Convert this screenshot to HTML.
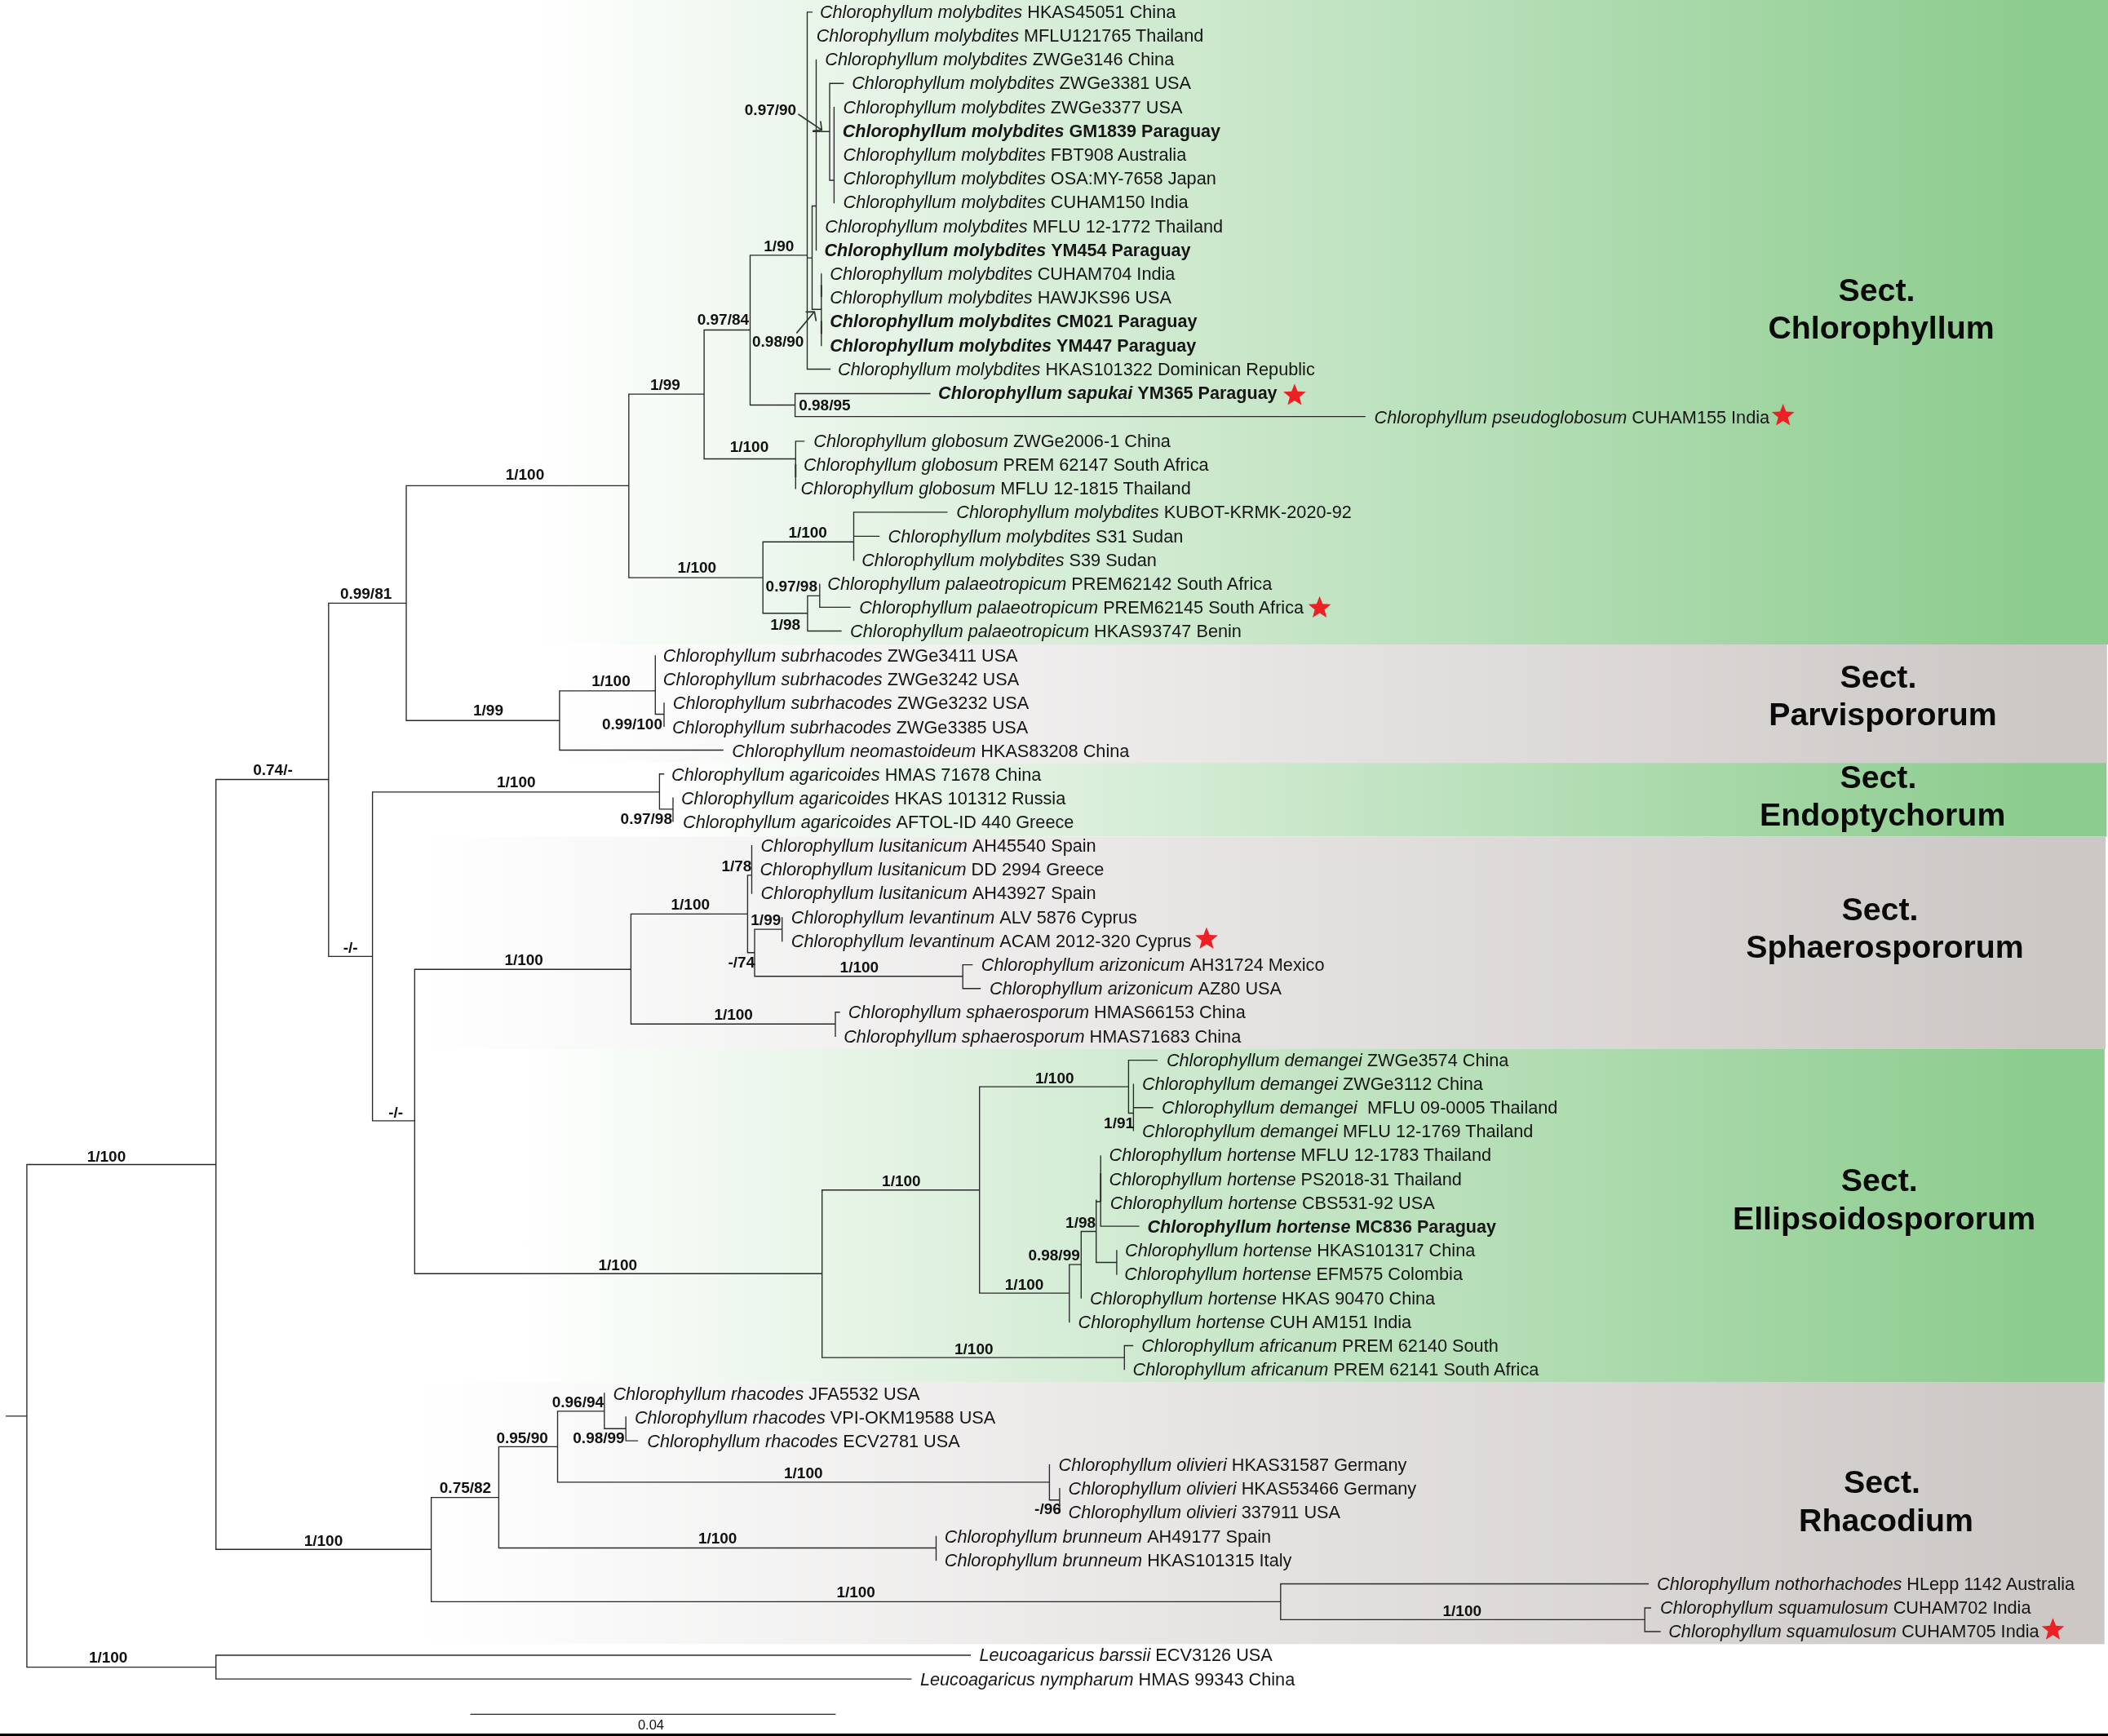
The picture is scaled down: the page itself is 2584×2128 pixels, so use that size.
<!DOCTYPE html>
<html><head><meta charset="utf-8"><title>Chlorophyllum phylogeny</title>
<style>
html,body{margin:0;padding:0;background:#fff;}
body{width:2584px;height:2128px;overflow:hidden;}
svg{display:block;will-change:transform;font-family:"Liberation Sans",sans-serif;}
.t{font-size:21.7px;fill:#151515;}
.t .i{font-style:italic;}
.b{font-weight:bold;font-size:21.55px;}
.s{font-size:19.0px;font-weight:bold;fill:#111;}
.sec{font-size:39.3px;font-weight:bold;fill:#0a0a0a;text-anchor:middle;}
.l{stroke:#282828;stroke-width:1.35;fill:none;stroke-linecap:square;}
</style></head><body>
<svg width="2584" height="2128" viewBox="0 0 2584 2128">
<defs>
<linearGradient id="g0" gradientUnits="userSpaceOnUse" x1="655" y1="0" x2="2500" y2="0"><stop offset="0" stop-color="#ffffff"/><stop offset="1" stop-color="#8ccc8e"/></linearGradient>
<linearGradient id="g1" gradientUnits="userSpaceOnUse" x1="690" y1="0" x2="2500" y2="0"><stop offset="0" stop-color="#ffffff"/><stop offset="1" stop-color="#ccc8c6"/></linearGradient>
<linearGradient id="g2" gradientUnits="userSpaceOnUse" x1="800" y1="0" x2="2500" y2="0"><stop offset="0" stop-color="#ffffff"/><stop offset="1" stop-color="#8ccc8e"/></linearGradient>
<linearGradient id="g3" gradientUnits="userSpaceOnUse" x1="516" y1="0" x2="2500" y2="0"><stop offset="0" stop-color="#ffffff"/><stop offset="1" stop-color="#ccc8c6"/></linearGradient>
<linearGradient id="g4" gradientUnits="userSpaceOnUse" x1="635" y1="0" x2="2500" y2="0"><stop offset="0" stop-color="#ffffff"/><stop offset="1" stop-color="#8ccc8e"/></linearGradient>
<linearGradient id="g5" gradientUnits="userSpaceOnUse" x1="515" y1="0" x2="2500" y2="0"><stop offset="0" stop-color="#ffffff"/><stop offset="1" stop-color="#ccc8c6"/></linearGradient>
</defs>
<rect x="0" y="0" width="2584" height="2128" fill="#ffffff"/>
<rect x="655" y="0" width="1929" height="790" fill="url(#g0)"/>
<rect x="690" y="790" width="1892.7" height="145.1" fill="url(#g1)"/>
<rect x="800" y="935.1" width="1782.3" height="90.5" fill="url(#g2)"/>
<rect x="516" y="1025.6" width="2065" height="260.4" fill="url(#g3)"/>
<rect x="635" y="1286" width="1944.8" height="408.7" fill="url(#g4)"/>
<rect x="515" y="1694.7" width="2064.7" height="320.7" fill="url(#g5)"/>
<rect x="0" y="2125" width="2584" height="3" fill="#000"/>
<path class="l" d="M7.7,1735.8H32.9M32.9,1427.5V2043.6M32.9,1427.5H264.7M32.9,2043.6H264.7M264.7,2029V2058.1M264.7,2029H1189.4M264.7,2058.1H1116.8M264.7,955.5V1899.2
M264.7,955.5H402.8M264.7,1899.2H528.6M402.8,739.3V1172.4M402.8,739.3H498M402.8,1172.4H456.6M498,595.4V883.2M498,595.4H770.8M498,883.2H685.9
M770.8,483.1V708.1M770.8,483.1H863.1M770.8,708.1H935.2M863.1,404.5V562.5M863.1,404.5H919.5M863.1,562.5H975.3M919.5,312.9V496.5M919.5,312.9H989.5
M919.5,496.5H974.6M974.6,482.5V510.6M974.6,482.5H1139.9M974.6,510.6H1673.1M989.5,14.8V452.5M989.5,14.8H995.4M989.5,452.5H1017.4M989.5,316.1H995.5
M995.5,252.5V379.2M995.5,252.5H1000.5M1000.5,73.3V306.6M996.8,161.2H1017M1017,102.2V221M1017,102.2H1033.8M1017,221H1022.4M1022.4,131.6V248.5
M995.5,379.2H1007M1006.8,336V423.6M975.3,540.8V598.8M975.3,540.8H985.6M935.2,664.2V751.7M935.2,664.2H1046.5M1046.5,627.9V686.8M1046.5,627.9H1160.8
M1046.5,657.3H1077.5M935.2,751.7H989.9M989.9,730.3V773.5M989.9,730.3H1004.8M1004.8,716.2V744.4M1004.8,744.4H1042.1M989.9,773.5H1031M685.9,846.9V919.5
M685.9,846.9H803.3M803.3,803.8V875.5M803.3,875.5H814M814,861.8V890.4M685.9,919.5H886.1M456.6,970.9V1373.9M456.6,970.9H808.4M808.4,948.7V991.8
M808.4,948.7H813.5M808.4,991.8H825M825,978.1V1006.7M456.6,1373.9H508.3M508.3,1188.2V1561.2M508.3,1188.2H773.4M773.4,1120.3V1255.2M773.4,1120.3H916.4
M916.4,1072.9V1167.7M916.4,1072.9H921.5M921.5,1036.6V1095.1M916.4,1167.7H925M925,1139.1V1196.7M925,1139.1H958.7M958.7,1125V1153.6M925,1196.7H1180.2
M1180.2,1182.6V1211.7M1180.2,1182.6H1191.7M1180.2,1211.7H1201.5M773.4,1255.2H1024M1024,1240.7V1270.2M1024,1240.7H1029M508.3,1561.2H1007.7M1007.7,1458.7V1664.1
M1007.7,1458.7H1200.7M1007.7,1664.1H1378.3M1378.3,1649.5V1678.6M1378.3,1649.5H1388.5M1200.7,1332.1V1585.1M1200.7,1332.1H1383.4M1383.4,1299.6V1364.5M1383.4,1299.6H1418.4
M1383.4,1364.5H1389.4M1389.4,1329.1V1385.9M1389.4,1357.7H1412.9M1200.7,1585.1H1310.8M1310.8,1550.1V1620.5M1310.8,1550.1H1325.3M1325.3,1509.5V1591M1325.3,1509.5H1343.7
M1343.7,1471.1V1547.5M1343.7,1473H1349.2M1349.2,1416.9V1503.1M1349.2,1503.1H1395.8M1343.7,1547.5H1368.9M1368.9,1533V1562M528.6,1835.6V1963.3M528.6,1835.6H611.4
M528.6,1963.3H1569.8M1569.8,1941.5V1985.3M1569.8,1941.5H2020.4M1569.8,1985.3H2016.2M2016.2,1971V2000M2016.2,1971H2023.4M2016.2,2000H2035M611.4,1773.4V1897.5
M611.4,1773.4H683.5M611.4,1897.5H1147.5M1147.5,1883.5V1912.5M683.5,1729.8V1816.9M683.5,1729.8H740.8M740.8,1708V1751.2M740.8,1751.2H767.2M767.2,1737V1766.1
M767.2,1766.1H781.3M683.5,1816.9H1286.4M1286.4,1795.6V1838.7M1286.4,1838.7H1298.9M1298.9,1824.6V1853.6M577.2,2101.3H1023.7
"/>
<path stroke="#2e2e2e" stroke-width="1.9" fill="none" d="M1006.8,349.5V364M1006.8,393.6V409.3M975.3,569V585M1349.2,1438V1473"/>
<g stroke="#333" stroke-width="1.7" fill="none" stroke-linecap="round" stroke-linejoin="round">
<path d="M979,140.2L1007,159.1M1005.9,149L1007.3,159.3L996.8,160.4"/>
<path d="M976.8,407.9L998.2,382.3M988.2,382.3L998.4,382.1L1000.3,393"/>
</g>
<text class="t" x="1004.9" y="21.8" xml:space="preserve"><tspan class="i">Chlorophyllum molybdites </tspan>HKAS45051 China</text>
<text class="t" x="1000.7" y="51" xml:space="preserve"><tspan class="i">Chlorophyllum molybdites </tspan>MFLU121765 Thailand</text>
<text class="t" x="1011.3" y="80.2" xml:space="preserve"><tspan class="i">Chlorophyllum molybdites </tspan>ZWGe3146 China</text>
<text class="t" x="1044.2" y="109.4" xml:space="preserve"><tspan class="i">Chlorophyllum molybdites </tspan>ZWGe3381 USA</text>
<text class="t" x="1033.5" y="138.6" xml:space="preserve"><tspan class="i">Chlorophyllum molybdites </tspan>ZWGe3377 USA</text>
<text class="t b" x="1032.7" y="167.8" xml:space="preserve"><tspan class="i">Chlorophyllum molybdites </tspan>GM1839 Paraguay</text>
<text class="t" x="1033.5" y="196.9" xml:space="preserve"><tspan class="i">Chlorophyllum molybdites </tspan>FBT908 Australia</text>
<text class="t" x="1033.5" y="226.1" xml:space="preserve"><tspan class="i">Chlorophyllum molybdites </tspan>OSA:MY-7658 Japan</text>
<text class="t" x="1033.5" y="255.3" xml:space="preserve"><tspan class="i">Chlorophyllum molybdites </tspan>CUHAM150 India</text>
<text class="t" x="1011.3" y="284.5" xml:space="preserve"><tspan class="i">Chlorophyllum molybdites </tspan>MFLU 12-1772 Thailand</text>
<text class="t b" x="1010.5" y="313.7" xml:space="preserve"><tspan class="i">Chlorophyllum molybdites </tspan>YM454 Paraguay</text>
<text class="t" x="1017.3" y="342.9" xml:space="preserve"><tspan class="i">Chlorophyllum molybdites </tspan>CUHAM704 India</text>
<text class="t" x="1017.3" y="372.1" xml:space="preserve"><tspan class="i">Chlorophyllum molybdites </tspan>HAWJKS96 USA</text>
<text class="t b" x="1017.3" y="401.3" xml:space="preserve"><tspan class="i">Chlorophyllum molybdites </tspan>CM021 Paraguay</text>
<text class="t b" x="1017.3" y="430.5" xml:space="preserve"><tspan class="i">Chlorophyllum molybdites </tspan>YM447 Paraguay</text>
<text class="t" x="1027.1" y="459.7" xml:space="preserve"><tspan class="i">Chlorophyllum molybdites </tspan>HKAS101322 Dominican Republic</text>
<text class="t b" x="1150.1" y="489.3" xml:space="preserve"><tspan class="i">Chlorophyllum sapukai </tspan>YM365 Paraguay</text>
<path d="M0.00,-14.60 L3.70,-5.10 L13.89,-4.51 L5.99,1.95 L8.58,11.81 L0.00,6.30 L-8.58,11.81 L-5.99,1.95 L-13.89,-4.51 L-3.70,-5.10 Z" fill="#ed2024" transform="translate(1586.9,484.8)"/>
<text class="t" x="1684.5" y="518.5" xml:space="preserve"><tspan class="i">Chlorophyllum pseudoglobosum </tspan>CUHAM155 India</text>
<path d="M0.00,-14.60 L3.70,-5.10 L13.89,-4.51 L5.99,1.95 L8.58,11.81 L0.00,6.30 L-8.58,11.81 L-5.99,1.95 L-13.89,-4.51 L-3.70,-5.10 Z" fill="#ed2024" transform="translate(2185.7,509.6)"/>
<text class="t" x="997.3" y="547.7" xml:space="preserve"><tspan class="i">Chlorophyllum globosum </tspan>ZWGe2006-1 China</text>
<text class="t" x="984.9" y="576.9" xml:space="preserve"><tspan class="i">Chlorophyllum globosum </tspan>PREM 62147 South Africa</text>
<text class="t" x="981.5" y="606.1" xml:space="preserve"><tspan class="i">Chlorophyllum globosum </tspan>MFLU 12-1815 Thailand</text>
<text class="t" x="1172.3" y="635.3" xml:space="preserve"><tspan class="i">Chlorophyllum molybdites </tspan>KUBOT-KRMK-2020-92</text>
<text class="t" x="1088.6" y="664.5" xml:space="preserve"><tspan class="i">Chlorophyllum molybdites </tspan>S31 Sudan</text>
<text class="t" x="1056.2" y="693.7" xml:space="preserve"><tspan class="i">Chlorophyllum molybdites </tspan>S39 Sudan</text>
<text class="t" x="1014.3" y="722.9" xml:space="preserve"><tspan class="i">Chlorophyllum palaeotropicum </tspan>PREM62142 South Africa</text>
<text class="t" x="1053.2" y="752" xml:space="preserve"><tspan class="i">Chlorophyllum palaeotropicum </tspan>PREM62145 South Africa</text>
<path d="M0.00,-14.60 L3.70,-5.10 L13.89,-4.51 L5.99,1.95 L8.58,11.81 L0.00,6.30 L-8.58,11.81 L-5.99,1.95 L-13.89,-4.51 L-3.70,-5.10 Z" fill="#ed2024" transform="translate(1617.6,745.3)"/>
<text class="t" x="1042.1" y="781.2" xml:space="preserve"><tspan class="i">Chlorophyllum palaeotropicum </tspan>HKAS93747 Benin</text>
<text class="t" x="812.8" y="810.9" xml:space="preserve"><tspan class="i">Chlorophyllum subrhacodes </tspan>ZWGe3411 USA</text>
<text class="t" x="812.8" y="840.1" xml:space="preserve"><tspan class="i">Chlorophyllum subrhacodes </tspan>ZWGe3242 USA</text>
<text class="t" x="824.8" y="869.3" xml:space="preserve"><tspan class="i">Chlorophyllum subrhacodes </tspan>ZWGe3232 USA</text>
<text class="t" x="823.9" y="898.5" xml:space="preserve"><tspan class="i">Chlorophyllum subrhacodes </tspan>ZWGe3385 USA</text>
<text class="t" x="897.3" y="927.7" xml:space="preserve"><tspan class="i">Chlorophyllum neomastoideum </tspan>HKAS83208 China</text>
<text class="t" x="823.1" y="956.9" xml:space="preserve"><tspan class="i">Chlorophyllum agaricoides </tspan>HMAS 71678 China</text>
<text class="t" x="834.9" y="986.1" xml:space="preserve"><tspan class="i">Chlorophyllum agaricoides </tspan>HKAS 101312 Russia</text>
<text class="t" x="837" y="1015.3" xml:space="preserve"><tspan class="i">Chlorophyllum agaricoides </tspan>AFTOL-ID 440 Greece</text>
<text class="t" x="932.6" y="1044" xml:space="preserve"><tspan class="i">Chlorophyllum lusitanicum </tspan>AH45540 Spain</text>
<text class="t" x="931.4" y="1073.1" xml:space="preserve"><tspan class="i">Chlorophyllum lusitanicum </tspan>DD 2994 Greece</text>
<text class="t" x="932.6" y="1102.3" xml:space="preserve"><tspan class="i">Chlorophyllum lusitanicum </tspan>AH43927 Spain</text>
<text class="t" x="969.8" y="1131.5" xml:space="preserve"><tspan class="i">Chlorophyllum levantinum </tspan>ALV 5876 Cyprus</text>
<text class="t" x="969.8" y="1160.7" xml:space="preserve"><tspan class="i">Chlorophyllum levantinum </tspan>ACAM 2012-320 Cyprus</text>
<path d="M0.00,-14.60 L3.70,-5.10 L13.89,-4.51 L5.99,1.95 L8.58,11.81 L0.00,6.30 L-8.58,11.81 L-5.99,1.95 L-13.89,-4.51 L-3.70,-5.10 Z" fill="#ed2024" transform="translate(1479,1151.1)"/>
<text class="t" x="1202.8" y="1189.9" xml:space="preserve"><tspan class="i">Chlorophyllum arizonicum </tspan>AH31724 Mexico</text>
<text class="t" x="1213" y="1219.1" xml:space="preserve"><tspan class="i">Chlorophyllum arizonicum </tspan>AZ80 USA</text>
<text class="t" x="1039.7" y="1248.3" xml:space="preserve"><tspan class="i">Chlorophyllum sphaerosporum </tspan>HMAS66153 China</text>
<text class="t" x="1034.2" y="1277.5" xml:space="preserve"><tspan class="i">Chlorophyllum sphaerosporum </tspan>HMAS71683 China</text>
<text class="t" x="1429.9" y="1306.7" xml:space="preserve"><tspan class="i">Chlorophyllum demangei </tspan>ZWGe3574 China</text>
<text class="t" x="1400" y="1335.8" xml:space="preserve"><tspan class="i">Chlorophyllum demangei </tspan>ZWGe3112 China</text>
<text class="t" x="1424" y="1365" xml:space="preserve"><tspan class="i">Chlorophyllum demangei  </tspan>MFLU 09-0005 Thailand</text>
<text class="t" x="1400" y="1394.2" xml:space="preserve"><tspan class="i">Chlorophyllum demangei </tspan>MFLU 12-1769 Thailand</text>
<text class="t" x="1359.5" y="1423.4" xml:space="preserve"><tspan class="i">Chlorophyllum hortense </tspan>MFLU 12-1783 Thailand</text>
<text class="t" x="1359.5" y="1452.6" xml:space="preserve"><tspan class="i">Chlorophyllum hortense </tspan>PS2018-31 Thailand</text>
<text class="t" x="1360.8" y="1481.8" xml:space="preserve"><tspan class="i">Chlorophyllum hortense </tspan>CBS531-92 USA</text>
<text class="t b" x="1406.5" y="1511" xml:space="preserve"><tspan class="i">Chlorophyllum hortense </tspan>MC836 Paraguay</text>
<text class="t" x="1379.1" y="1540.2" xml:space="preserve"><tspan class="i">Chlorophyllum hortense </tspan>HKAS101317 China</text>
<text class="t" x="1378.3" y="1569.4" xml:space="preserve"><tspan class="i">Chlorophyllum hortense </tspan>EFM575 Colombia</text>
<text class="t" x="1336" y="1598.6" xml:space="preserve"><tspan class="i">Chlorophyllum hortense </tspan>HKAS 90470 China</text>
<text class="t" x="1321.5" y="1627.8" xml:space="preserve"><tspan class="i">Chlorophyllum hortense </tspan>CUH AM151 India</text>
<text class="t" x="1399.2" y="1656.9" xml:space="preserve"><tspan class="i">Chlorophyllum africanum </tspan>PREM 62140 South</text>
<text class="t" x="1388.5" y="1686.1" xml:space="preserve"><tspan class="i">Chlorophyllum africanum </tspan>PREM 62141 South Africa</text>
<text class="t" x="751.4" y="1716.1" xml:space="preserve"><tspan class="i">Chlorophyllum rhacodes </tspan>JFA5532 USA</text>
<text class="t" x="777.9" y="1744.5" xml:space="preserve"><tspan class="i">Chlorophyllum rhacodes </tspan>VPI-OKM19588 USA</text>
<text class="t" x="793.3" y="1773.7" xml:space="preserve"><tspan class="i">Chlorophyllum rhacodes </tspan>ECV2781 USA</text>
<text class="t" x="1297.6" y="1802.9" xml:space="preserve"><tspan class="i">Chlorophyllum olivieri </tspan>HKAS31587 Germany</text>
<text class="t" x="1309.5" y="1832.1" xml:space="preserve"><tspan class="i">Chlorophyllum olivieri </tspan>HKAS53466 Germany</text>
<text class="t" x="1309.5" y="1861.3" xml:space="preserve"><tspan class="i">Chlorophyllum olivieri </tspan>337911 USA</text>
<text class="t" x="1157.8" y="1890.5" xml:space="preserve"><tspan class="i">Chlorophyllum brunneum </tspan>AH49177 Spain</text>
<text class="t" x="1157.8" y="1919.7" xml:space="preserve"><tspan class="i">Chlorophyllum brunneum </tspan>HKAS101315 Italy</text>
<text class="t" x="2031.1" y="1948.8" xml:space="preserve"><tspan class="i">Chlorophyllum nothorhachodes </tspan>HLepp 1142 Australia</text>
<text class="t" x="2035" y="1978" xml:space="preserve"><tspan class="i">Chlorophyllum squamulosum </tspan>CUHAM702 India</text>
<text class="t" x="2045.2" y="2007.2" xml:space="preserve"><tspan class="i">Chlorophyllum squamulosum </tspan>CUHAM705 India</text>
<path d="M0.00,-14.60 L3.70,-5.10 L13.89,-4.51 L5.99,1.95 L8.58,11.81 L0.00,6.30 L-8.58,11.81 L-5.99,1.95 L-13.89,-4.51 L-3.70,-5.10 Z" fill="#ed2024" transform="translate(2516.5,1997.9)"/>
<text class="t" x="1200.5" y="2036.4" xml:space="preserve"><tspan class="i">Leucoagaricus barssii </tspan>ECV3126 USA</text>
<text class="t" x="1127.9" y="2065.6" xml:space="preserve"><tspan class="i">Leucoagaricus nympharum </tspan>HMAS 99343 China</text>
<text class="s" x="912.8" y="140.8">0.97/90</text>
<text class="s" x="936.3" y="307.5">1/90</text>
<text class="s" x="854.7" y="397.8">0.97/84</text>
<text class="s" x="922" y="424.9">0.98/90</text>
<text class="s" x="796.9" y="477.7">1/99</text>
<text class="s" x="979.2" y="502.5">0.98/95</text>
<text class="s" x="894.7" y="553.7">1/100</text>
<text class="s" x="619.7" y="587.9">1/100</text>
<text class="s" x="966.4" y="659.2">1/100</text>
<text class="s" x="830.6" y="701.9">1/100</text>
<text class="s" x="938.6" y="725">0.97/98</text>
<text class="s" x="944.2" y="771.5">1/98</text>
<text class="s" x="416.9" y="734.3">0.99/81</text>
<text class="s" x="725.2" y="841.1">1/100</text>
<text class="s" x="580" y="877">1/99</text>
<text class="s" x="738" y="894">0.99/100</text>
<text class="s" x="310.2" y="950">0.74/-</text>
<text class="s" x="609" y="964.9">1/100</text>
<text class="s" x="760.6" y="1009.5">0.97/98</text>
<text class="s" x="884.4" y="1068.4">1/78</text>
<text class="s" x="822.5" y="1114.9">1/100</text>
<text class="s" x="920.3" y="1133.7">1/99</text>
<text class="s" x="420.7" y="1167.8">-/-</text>
<text class="s" x="618.4" y="1183.2">1/100</text>
<text class="s" x="892.5" y="1185.8">-/74</text>
<text class="s" x="1029.6" y="1191.8">1/100</text>
<text class="s" x="875.4" y="1249.8">1/100</text>
<text class="s" x="1269" y="1328">1/100</text>
<text class="s" x="476.2" y="1369.7">-/-</text>
<text class="s" x="1353.1" y="1383.1">1/91</text>
<text class="s" x="106.7" y="1423.9">1/100</text>
<text class="s" x="1081.1" y="1453.7">1/100</text>
<text class="s" x="1306.1" y="1505">1/98</text>
<text class="s" x="1260.4" y="1544.7">0.98/99</text>
<text class="s" x="733.5" y="1557.1">1/100</text>
<text class="s" x="1231.8" y="1581">1/100</text>
<text class="s" x="1170" y="1659.5">1/100</text>
<text class="s" x="676.7" y="1724.9">0.96/94</text>
<text class="s" x="608.4" y="1768.8">0.95/90</text>
<text class="s" x="702.3" y="1768.8">0.98/99</text>
<text class="s" x="961" y="1812.3">1/100</text>
<text class="s" x="538.8" y="1830.3">0.75/82</text>
<text class="s" x="1268.1" y="1855.9">-/96</text>
<text class="s" x="855.9" y="1892.2">1/100</text>
<text class="s" x="372.7" y="1894.7">1/100</text>
<text class="s" x="1025.4" y="1957.5">1/100</text>
<text class="s" x="1768.5" y="1980.6">1/100</text>
<text class="s" x="108.9" y="2038.2">1/100</text>
<text class="sec" x="2300.5" y="368.7">Sect.</text>
<text class="sec" x="2306" y="414.8">Chlorophyllum</text>
<text class="sec" x="2302.4" y="842.5">Sect.</text>
<text class="sec" x="2308" y="888.6">Parvispororum</text>
<text class="sec" x="2302.4" y="965.5">Sect.</text>
<text class="sec" x="2307.7" y="1012.4">Endoptychorum</text>
<text class="sec" x="2304.5" y="1127.7">Sect.</text>
<text class="sec" x="2310.5" y="1173.8">Sphaerospororum</text>
<text class="sec" x="2303.7" y="1459.9">Sect.</text>
<text class="sec" x="2309.5" y="1506.9">Ellipsoidospororum</text>
<text class="sec" x="2307" y="1829.7">Sect.</text>
<text class="sec" x="2312" y="1876.7">Rhacodium</text>
<text x="798" y="2120.3" font-size="16.5" fill="#111" text-anchor="middle">0.04</text>
</svg>
</body></html>
